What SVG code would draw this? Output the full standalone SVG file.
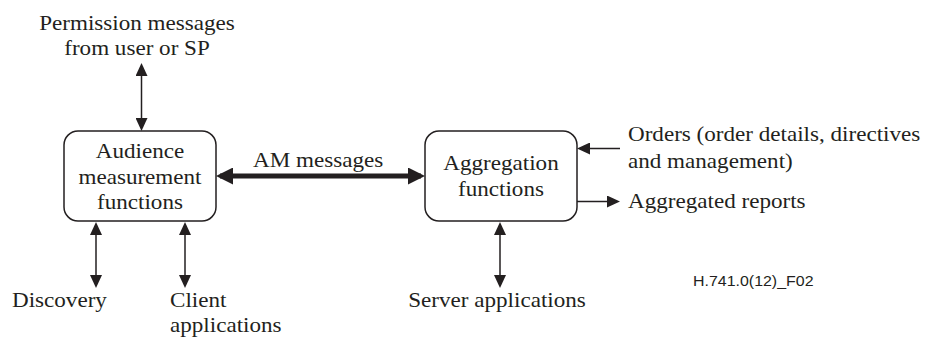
<svg xmlns="http://www.w3.org/2000/svg" width="925" height="338" viewBox="0 0 925 338">
  <style>
    .box { fill: #ffffff; stroke: #231f20; stroke-width: 1.5; }
    .ln { stroke: #231f20; stroke-width: 1.5; fill: none; }
    .thick { stroke: #231f20; stroke-width: 5; fill: none; }
  </style>
  <defs>
    <marker id="ah" viewBox="0 0 13 12" refX="10" refY="6" markerWidth="13" markerHeight="12" markerUnits="userSpaceOnUse" orient="auto-start-reverse">
      <path d="M0,0 L13,6 L0,12 z" fill="#231f20"/>
    </marker>
    <marker id="ahb" viewBox="0 0 17 17" refX="13" refY="8.5" markerWidth="17" markerHeight="17" markerUnits="userSpaceOnUse" orient="auto-start-reverse">
      <path d="M0,0 L17,8.5 L0,17 z" fill="#231f20"/>
    </marker>
  </defs>
  <rect width="925" height="338" fill="#ffffff"/>

  <g id="connectors">
    <line class="ln" x1="141.5" y1="66" x2="141.5" y2="128" marker-start="url(#ah)" marker-end="url(#ah)"/>
    <line class="ln" x1="96" y1="225" x2="96" y2="285" marker-start="url(#ah)" marker-end="url(#ah)"/>
    <line class="ln" x1="185" y1="225" x2="185" y2="285" marker-start="url(#ah)" marker-end="url(#ah)"/>
    <line class="ln" x1="500" y1="225" x2="500" y2="285" marker-start="url(#ah)" marker-end="url(#ah)"/>
    <line class="thick" x1="220" y1="176" x2="421" y2="176" marker-start="url(#ahb)" marker-end="url(#ahb)"/>
    <line class="ln" x1="620" y1="148.5" x2="580" y2="148.5" marker-end="url(#ah)"/>
    <line class="ln" x1="577" y1="201.5" x2="617" y2="201.5" marker-end="url(#ah)"/>
  </g>

  <g id="audience">
    <rect class="box" x="64" y="131" width="152" height="90" rx="14"/>
    <g transform="scale(1.1 1)" font-family="'Liberation Serif', 'Times New Roman', serif" font-size="21" fill="#231f20" text-anchor="middle">
      <text x="127.27" y="158">Audience</text>
      <text x="127.27" y="184">measurement</text>
      <text x="127.27" y="209">functions</text>
    </g>
  </g>

  <g id="aggregation">
    <rect class="box" x="425" y="131" width="152" height="90" rx="14"/>
    <g transform="scale(1.1 1)" font-family="'Liberation Serif', 'Times New Roman', serif" font-size="21" fill="#231f20" text-anchor="middle">
      <text x="455.45" y="170">Aggregation</text>
      <text x="455.45" y="196">functions</text>
    </g>
  </g>

  <g id="labels" transform="scale(1.1 1)" font-family="'Liberation Serif', 'Times New Roman', serif" font-size="21" fill="#231f20">
    <g id="permission" text-anchor="middle">
      <text x="124.55" y="30">Permission messages</text>
      <text x="124.55" y="55">from user or SP</text>
    </g>
    <g id="am-label">
      <text x="230" y="167">AM messages</text>
    </g>
    <g id="discovery">
      <text x="10.91" y="307">Discovery</text>
    </g>
    <g id="client">
      <text x="154.55" y="307">Client</text>
      <text x="154.55" y="332">applications</text>
    </g>
    <g id="server" text-anchor="middle">
      <text x="451.82" y="307">Server applications</text>
    </g>
    <g id="orders">
      <text x="570.91" y="141">Orders (order details, directives</text>
      <text x="570.91" y="168">and management)</text>
    </g>
    <g id="reports">
      <text x="570.91" y="208">Aggregated reports</text>
    </g>
    <g id="figlabel">
      <text x="630" y="286" font-family="'Liberation Sans', Arial, sans-serif" font-size="14.5">H.741.0(12)_F02</text>
    </g>
  </g>
</svg>
